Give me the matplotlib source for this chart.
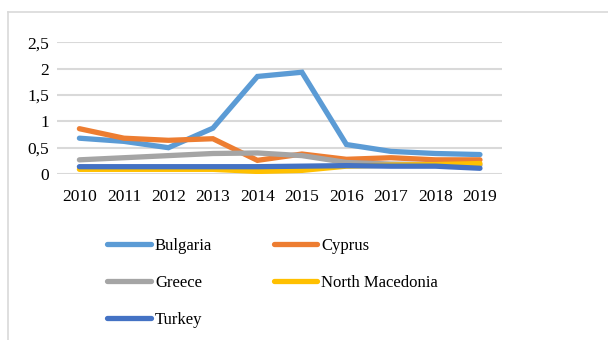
import matplotlib.pyplot as plt
from matplotlib.lines import Line2D

plt.rcParams['font.family'] = ['Liberation Serif', 'DejaVu Serif']

# === DATA ===
years = ['2010', '2011', '2012', '2013', '2014', '2015', '2016', '2017', '2018', '2019']
bulgaria = [0.68, 0.62, 0.50, 0.87, 1.85, 1.93, 0.56, 0.43, 0.39, 0.37]
cyprus = [0.86, 0.68, 0.64, 0.67, 0.26, 0.38, 0.28, 0.31, 0.27, 0.27]
greece = [0.27, 0.31, 0.35, 0.39, 0.40, 0.35, 0.22, 0.19, 0.18, 0.17]
north_macedonia = [0.09, 0.09, 0.09, 0.09, 0.05, 0.07, 0.15, 0.17, 0.18, 0.20]
turkey = [0.14, 0.14, 0.14, 0.14, 0.14, 0.15, 0.16, 0.15, 0.15, 0.11]
yticks = [0, 0.5, 1, 1.5, 2, 2.5]
ytick_labels = ['0', '0,5', '1', '1,5', '2', '2,5']

series = [
    ('Bulgaria', bulgaria, '#5B9BD5'),
    ('Cyprus', cyprus, '#ED7D31'),
    ('Greece', greece, '#A5A5A5'),
    ('North Macedonia', north_macedonia, '#FFC000'),
    ('Turkey', turkey, '#4472C4'),
]

fig = plt.figure(figsize=(6.08, 3.40), dpi=100)
ax = fig.add_axes([0.094, 0.488, 0.732, 0.388])

x = range(len(years))
handles = {}
for name, vals, col in series:
    h, = ax.plot(x, vals, color=col, linewidth=3.8, solid_capstyle='round',
                 solid_joinstyle='miter', label=name)
    handles[name] = h

ax.set_xlim(-0.5, len(years) - 0.5)
ax.set_ylim(0, 2.5)
ax.set_xticks(list(x))
ax.set_xticklabels(years)
ax.set_yticks(yticks)
ax.set_yticklabels(ytick_labels)
ax.tick_params(axis='both', length=0, labelsize=12.5, colors='black')
ax.tick_params(axis='x', pad=11)
ax.tick_params(axis='y', pad=6)
ax.grid(axis='y', color='#d9d9d9', linewidth=1.5)
ax.set_axisbelow(True)
for s in ax.spines.values():
    s.set_visible(False)

# legend filled row by row
order = ['Bulgaria', 'Greece', 'Turkey', 'Cyprus', 'North Macedonia']
fig.legend([handles[n] for n in order], order, ncol=2,
           loc='upper left', bbox_to_anchor=(0.152, 0.345),
           frameon=False, fontsize=12, handlelength=2.6, handletextpad=0.25,
           columnspacing=3.7, labelspacing=1.26)

# chart area border
fig.add_artist(Line2D([0.013, 0.013], [0.0, 0.965], color='#d9d9d9', linewidth=1.2))
fig.add_artist(Line2D([0.013, 1.0], [0.965, 0.965], color='#d9d9d9', linewidth=1.2))

fig.savefig('out.png', dpi=100)
